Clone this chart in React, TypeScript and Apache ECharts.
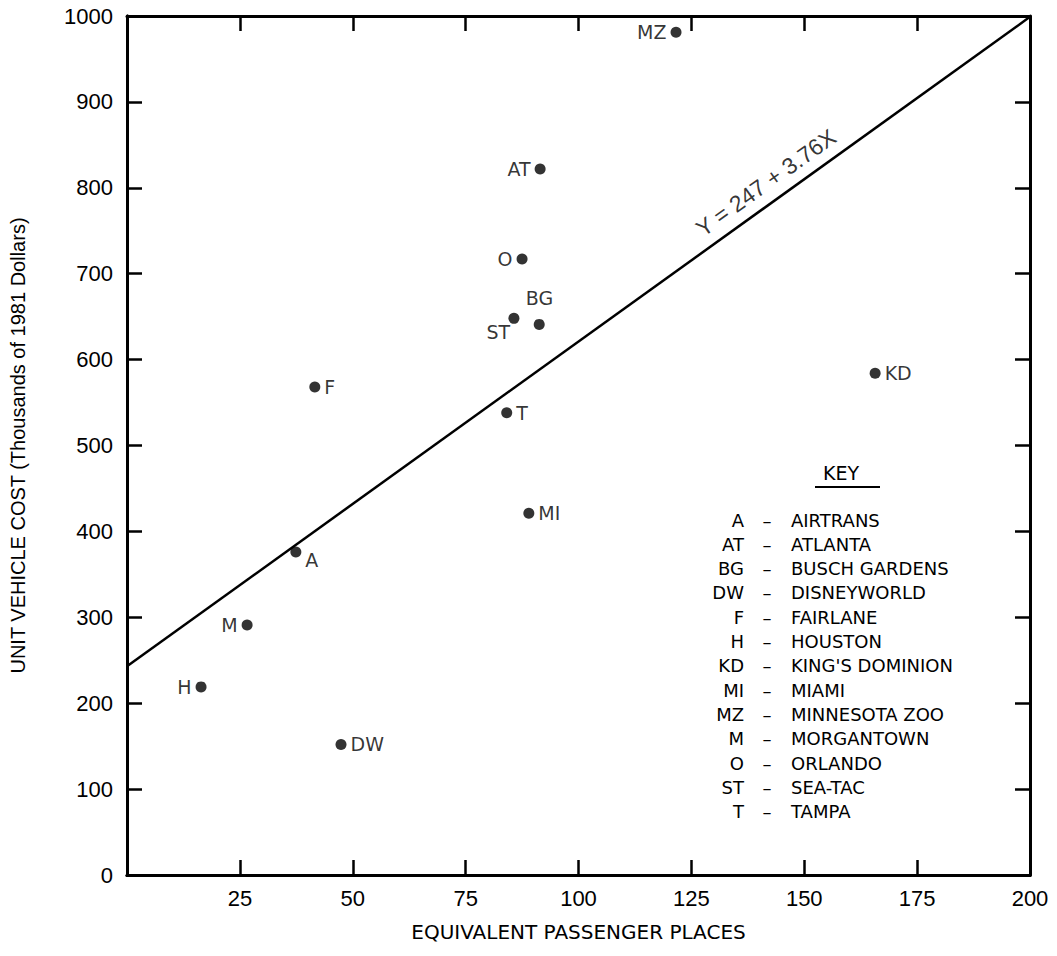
import React, { useEffect, useRef } from "react";
import * as echarts from "echarts";

const codes = ["A", "AT", "BG", "DW", "F", "H", "KD", "MI", "MZ", "M", "O", "ST", "T"];
const siteNames = ["AIRTRANS", "ATLANTA", "BUSCH GARDENS", "DISNEYWORLD", "FAIRLANE", "HOUSTON", "KING'S DOMINION", "MIAMI", "MINNESOTA ZOO", "MORGANTOWN", "ORLANDO", "SEA-TAC", "TAMPA"];
const places = [37.4, 91.5, 91.3, 47.4, 41.6, 16.4, 165.7, 89.0, 121.6, 26.6, 87.5, 85.7, 84.1];
const costs = [376, 822, 641, 152, 568, 219, 584, 421, 981, 291, 717, 648, 538];
const fitLine = [[0, 243], [200, 999]];
const fitLabel = "Y = 247 + 3.76X";
const xTicks = [0, 25, 50, 75, 100, 125, 150, 175, 200];
const yTicks = [0, 100, 200, 300, 400, 500, 600, 700, 800, 900, 1000];

const labelPos: Record<string, string> = {
  A: "bottomRight", AT: "left", BG: "topRight", DW: "right", F: "right", H: "left",
  KD: "right", MI: "right", MZ: "left", M: "left", O: "left", ST: "bottomLeft", T: "right",
};

const FONT = "'Liberation Sans', Arial, Helvetica, sans-serif";
const WIDE = "'DejaVu Sans', Verdana, sans-serif";
const INK = "#000";

const mkLine = () => ({ show: true, onZero: false, lineStyle: { color: INK, width: 3 } });
const mkTick = () => ({ show: true, inside: true, length: 15, lineStyle: { color: INK, width: 2.5 } });

export default function App() {
  const ref = useRef<HTMLDivElement>(null);
  useEffect(() => {
    if (!ref.current) return;
    const chart = echarts.init(ref.current, null, { renderer: "svg" });

    const posToLabel = (p: string) => {
      const base: any = { show: true, color: INK, fontFamily: WIDE, fontSize: 19, formatter: "{b}" };
      if (p === "left") return { ...base, position: "left", distance: 4 };
      if (p === "right") return { ...base, position: "right", distance: 4 };
      if (p === "topRight") return { ...base, position: [-8, -30], align: "left" };
      if (p === "bottomRight") return { ...base, position: [15, 4], align: "left" };
      if (p === "bottomLeft") return { ...base, position: [-22, 10], align: "left" };
      return base;
    };

    const pts = codes.map((c, i) => ({
      name: c,
      value: [places[i], costs[i]],
      label: posToLabel(labelPos[c]),
    }));

    const keyTop = 520;
    const keyGap = 24.3;
    const keyFont = `18px ${WIDE}`;
    const keyGraphics: any[] = [
      { type: "text", x: 841, y: 473, style: { text: "KEY", font: `19px ${WIDE}`, fill: INK, align: "center", verticalAlign: "middle" } },
      { type: "line", shape: { x1: 815, y1: 487, x2: 880, y2: 487 }, style: { stroke: INK, lineWidth: 2 } },
    ];
    codes.forEach((c, i) => {
      const y = keyTop + i * keyGap;
      keyGraphics.push({ type: "text", x: 744, y, style: { text: c, font: keyFont, fill: INK, align: "right", verticalAlign: "middle" } });
      keyGraphics.push({ type: "text", x: 767, y, style: { text: "–", font: keyFont, fill: INK, align: "center", verticalAlign: "middle" } });
      keyGraphics.push({ type: "text", x: 791, y, style: { text: siteNames[i], font: keyFont, fill: INK, align: "left", verticalAlign: "middle" } });
    });

    const xMin = xTicks[0], xMax = xTicks[xTicks.length - 1];
    const yMin = yTicks[0], yMax = yTicks[yTicks.length - 1];
    const tickOnlyX = (pos: string) => ({
      type: "value", position: pos, min: xMin, max: xMax, interval: 25,
      axisLine: mkLine(), axisTick: mkTick(), splitLine: { show: false }, axisLabel: { show: false },
    });
    const tickOnlyY = (pos: string) => ({
      type: "value", position: pos, min: yMin, max: yMax, interval: 100,
      axisLine: mkLine(), axisTick: mkTick(), splitLine: { show: false }, axisLabel: { show: false },
    });

    chart.setOption({
      animation: false,
      backgroundColor: "#fff",
      textStyle: { fontFamily: FONT, color: INK },
      grid: { left: 127, right: 27, top: 16, bottom: 81, containLabel: false },
      xAxis: [
        {
          type: "value", position: "bottom", min: xMin, max: xMax, interval: 25,
          name: "EQUIVALENT PASSENGER PLACES", nameLocation: "middle", nameGap: 47,
          nameTextStyle: { fontSize: 20, color: INK, fontFamily: WIDE },
          axisLine: mkLine(), axisTick: { show: false }, splitLine: { show: false },
          axisLabel: { showMinLabel: false, fontSize: 22, color: INK, fontFamily: FONT, margin: 12 },
        },
        tickOnlyX("top"),
        tickOnlyX("bottom"),
      ],
      yAxis: [
        {
          type: "value", position: "left", min: yMin, max: yMax, interval: 100,
          name: "UNIT VEHICLE COST (Thousands of 1981 Dollars)", nameLocation: "middle", nameGap: 99,
          nameTextStyle: { fontSize: 20, color: INK, fontFamily: FONT },
          axisLine: mkLine(), axisTick: { show: false }, splitLine: { show: false },
          axisLabel: { fontSize: 22, color: INK, fontFamily: FONT, margin: 14, formatter: (v: number) => String(v) },
        },
        tickOnlyY("right"),
        tickOnlyY("left"),
      ],
      series: [
        {
          type: "line", data: fitLine, symbol: "none", silent: true,
          lineStyle: { color: INK, width: 2.5 },
        },
        {
          type: "scatter", data: pts, symbol: "circle", symbolSize: 11,
          itemStyle: { color: INK },
        },
        {
          type: "scatter", symbolSize: 1, itemStyle: { color: "transparent" },
          data: [{ value: [141.5, 806], name: fitLabel }],
          label: { show: true, position: "inside", rotate: 35.6, formatter: "{b}", fontSize: 23, color: INK, fontFamily: FONT },
        },
      ],
      graphic: keyGraphics,
    });
    return () => chart.dispose();
  }, []);
  return <div ref={ref} style={{ position: "absolute", left: 0, top: 0, width: 1057, height: 956 }} />;
}
